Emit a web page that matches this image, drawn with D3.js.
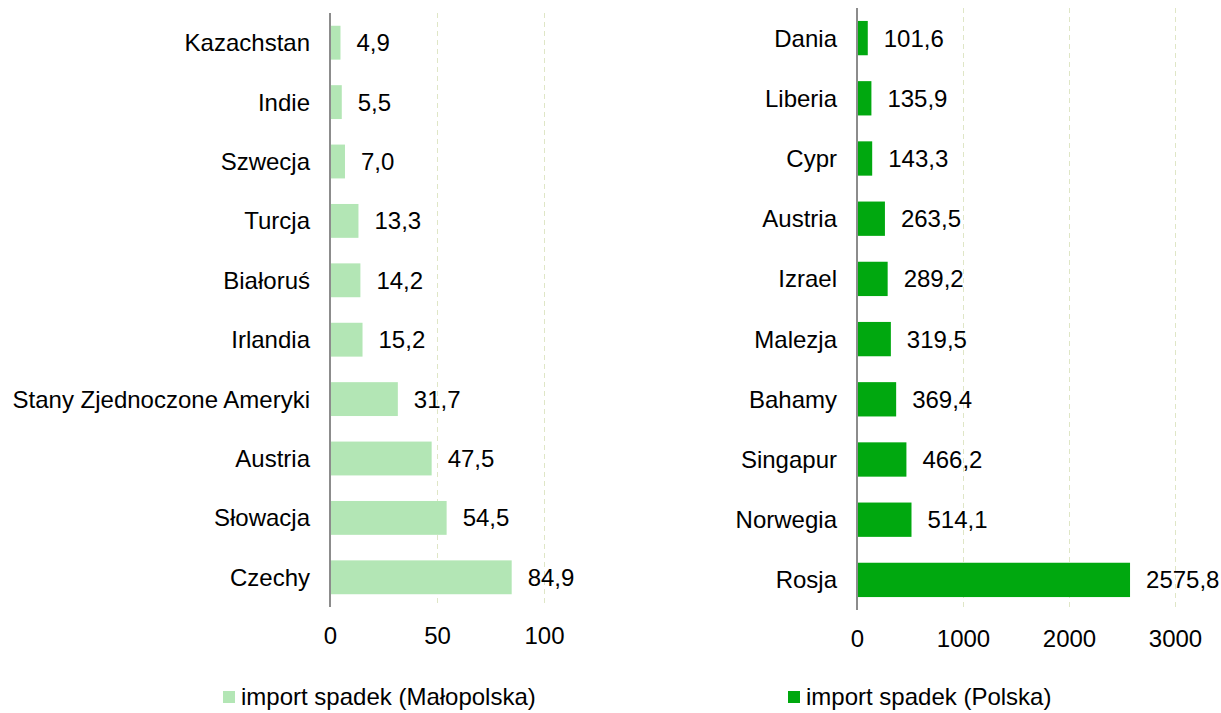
<!DOCTYPE html>
<html>
<head>
<meta charset="utf-8">
<script src="https://cdn.jsdelivr.net/npm/d3@7"></script>
<style>
body { margin: 0; background: #fff; }
text { font-family: Arial, "Liberation Sans", sans-serif; fill: #000; }
</style>
</head>
<body>
<div id="graphsvg"></div>
<script>
// left chart: Małopolska
var catsMalo = ["Kazachstan", "Indie", "Szwecja", "Turcja", "Białoruś", "Irlandia",
	"Stany Zjednoczone Ameryki", "Austria", "Słowacja", "Czechy"]
var valsMalo = [4.9, 5.5, 7.0, 13.3, 14.2, 15.2, 31.7, 47.5, 54.5, 84.9]
var ticksMalo = [0, 50, 100]

// right chart: Polska
var catsPl = ["Dania", "Liberia", "Cypr", "Austria", "Izrael", "Malezja",
	"Bahamy", "Singapur", "Norwegia", "Rosja"]
var valsPl = [101.6, 135.9, 143.3, 263.5, 289.2, 319.5, 369.4, 466.2, 514.1, 2575.8]
var ticksPl = [0, 1000, 2000, 3000]

var legendNames = ["import spadek (Małopolska)", "import spadek (Polska)"]

var width = 1221
var height = 713
var fs = "24px"

var svg = d3.select("#graphsvg")
	.append("svg")
	.attr("width", width)
	.attr("height", height)

var fmt = function (v) { return v.toFixed(1).replace(".", ",") }

function draw_panel(cats, vals, ticks, opt) {
	var x = d3.scaleLinear().domain([0, ticks[ticks.length - 1]]).range([opt.x0, opt.x1])
	var y = d3.scaleBand().domain(cats).range([opt.y0, opt.y1]).paddingInner(0.43).paddingOuter(0.215)

	var g = svg.append("g")

	// dashed gridlines
	g.selectAll("line.grid")
		.data(ticks.slice(1))
		.enter()
		.append("line")
		.attr("x1", function (d) { return x(d) + 0.5 })
		.attr("x2", function (d) { return x(d) + 0.5 })
		.attr("y1", opt.y0)
		.attr("y2", opt.y1)
		.attr("stroke", "#dfe6c6")
		.attr("stroke-width", 1)
		.attr("stroke-dasharray", "5,4")

	g.selectAll("rect")
		.data(vals)
		.enter()
		.append("rect")
		.attr("x", x(0))
		.attr("y", function (d, i) { return y(cats[i]) })
		.attr("width", function (d) { return x(d) - x(0) })
		.attr("height", y.bandwidth())
		.style("fill", opt.color)

	// value labels
	g.selectAll("text.val")
		.data(vals)
		.enter()
		.append("text")
		.text(function (d) { return fmt(d) })
		.attr("x", function (d) { return x(d) + 16 })
		.attr("y", function (d, i) { return y(cats[i]) + y.bandwidth() / 2 })
		.attr("dy", "0.35em")
		.style("font-size", fs)

	// category labels
	g.selectAll("text.cat")
		.data(cats)
		.enter()
		.append("text")
		.text(function (d) { return d })
		.attr("x", opt.x0 - 20)
		.attr("y", function (d) { return y(d) + y.bandwidth() / 2 })
		.attr("dy", "0.35em")
		.attr("text-anchor", "end")
		.style("font-size", fs)

	// vertical axis line
	g.append("line")
		.attr("x1", x(0))
		.attr("x2", x(0))
		.attr("y1", opt.y0)
		.attr("y2", opt.y1)
		.attr("stroke", "#8c8c8c")
		.attr("stroke-width", 2)

	// x tick labels
	var xa = g.append("g")
		.attr("transform", "translate(0," + (opt.y1 + 20) + ")")
		.call(d3.axisBottom(x).tickValues(ticks).tickFormat(d3.format("d")).tickSize(0).tickPadding(0))
	xa.select(".domain").remove()
	xa.selectAll("text")
		.style("font-size", fs)
		.style("font-family", "Arial, 'Liberation Sans', sans-serif")
		.attr("fill", "#000")

	// legend
	svg.append("rect")
		.attr("x", opt.legX)
		.attr("y", 691)
		.attr("width", 12)
		.attr("height", 12)
		.style("fill", opt.color)
	svg.append("text")
		.text(opt.legend)
		.attr("x", opt.legX + 18)
		.attr("y", 697)
		.attr("dy", "0.35em")
		.style("font-size", fs)
}

draw_panel(catsMalo, valsMalo, ticksMalo, {
	x0: 330, x1: 544, y0: 13, y1: 607, color: "#b3e6b5", legX: 223, legend: legendNames[0]
})
draw_panel(catsPl, valsPl, ticksPl, {
	x0: 857, x1: 1175, y0: 8, y1: 610, color: "#00a80f", legX: 788, legend: legendNames[1]
})
</script>
</body>
</html>
